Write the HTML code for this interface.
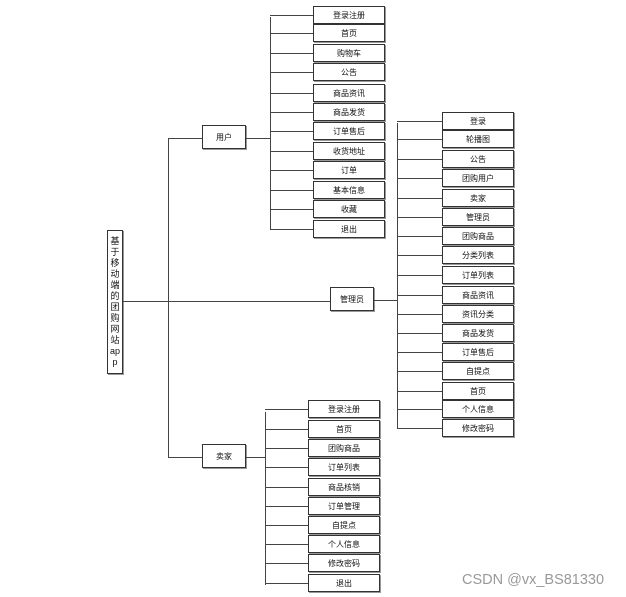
<!DOCTYPE html>
<html><head><meta charset="utf-8"><style>
body{margin:0;width:626px;height:597px;background:#fff;position:relative;overflow:hidden;font-family:"Liberation Sans","Noto Sans CJK SC",sans-serif}
.b{position:absolute;box-sizing:border-box;border:1px solid #333;box-shadow:1px 1px 0 #999;background:#fff;font-size:8px;display:flex;align-items:center;justify-content:center;color:#111}
.h,.v{position:absolute;background:#444}
.h{height:1px}.v{width:1px}
</style></head><body>
<div class="b" style="left:107px;top:230px;width:16px;height:144px;flex-direction:column;font-size:9px;line-height:11px;text-align:center">基<br>于<br>移<br>动<br>端<br>的<br>团<br>购<br>网<br>站<br>ap<br>p</div>
<div class="h" style="left:123px;top:301px;width:207px"></div>
<div class="v" style="left:168px;top:138px;height:320px"></div>
<div class="h" style="left:168px;top:138px;width:34px"></div>
<div class="h" style="left:168px;top:457px;width:34px"></div>
<div class="b" style="left:202px;top:125px;width:44px;height:24px">用户</div>
<div class="b" style="left:330px;top:287px;width:44px;height:24px">管理员</div>
<div class="b" style="left:202px;top:444px;width:44px;height:24px">卖家</div>
<div class="h" style="left:246px;top:138px;width:24px"></div>
<div class="h" style="left:374px;top:300px;width:23px"></div>
<div class="h" style="left:246px;top:457px;width:19px"></div>
<div class="v" style="left:270px;top:17px;height:212px"></div>
<div class="v" style="left:397px;top:123px;height:306px"></div>
<div class="v" style="left:265px;top:412px;height:173px"></div>
<div id="g"></div>
<div style="position:absolute;left:462px;top:572px;font-size:14.5px;color:#999;white-space:nowrap">CSDN @vx_BS81330</div>
<script>
function col(x0,xb,w,tops,labels){var s='';tops.forEach(function(t,i){s+='<div class="h" style="left:'+x0+'px;top:'+(t+9)+'px;width:'+(xb-x0)+'px"></div><div class="b" style="left:'+xb+'px;top:'+t+'px;width:'+w+'px;height:18px">'+labels[i]+'</div>';});return s;}
var g='';
g+=col(270,313,72,[6,24,44,63,84,103,122,142,161,181,200,220],['登录注册','首页','购物车','公告','商品资讯','商品发货','订单售后','收货地址','订单','基本信息','收藏','退出']);
g+=col(397,442,72,[112,130,150,169,189,208,227,246,266,286,305,324,343,362,382,400,419],['登录','轮播图','公告','团购用户','卖家','管理员','团购商品','分类列表','订单列表','商品资讯','资讯分类','商品发货','订单售后','自提点','首页','个人信息','修改密码']);
g+=col(265,308,72,[400,420,439,458,478,497,516,535,554,574],['登录注册','首页','团购商品','订单列表','商品核销','订单管理','自提点','个人信息','修改密码','退出']);
document.getElementById('g').innerHTML=g;
</script>
</body></html>
